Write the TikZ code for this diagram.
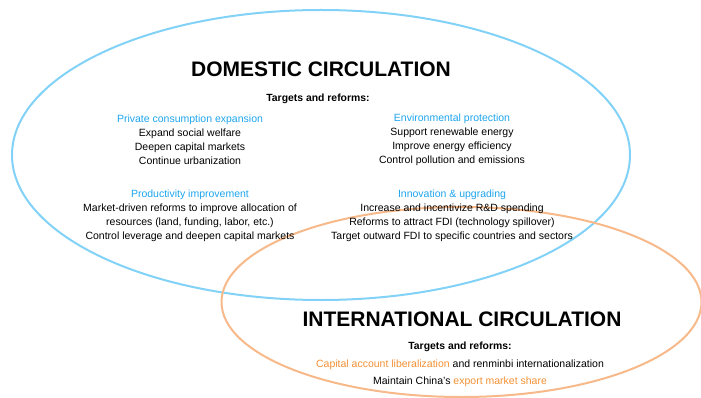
\documentclass[tikz,border=0pt]{standalone}
\usepackage{fontspec}
\setmainfont{Liberation Sans}
\usetikzlibrary{positioning}
\definecolor{dcline}{HTML}{82D2F7}
\definecolor{dctext}{HTML}{1EA5EE}
\definecolor{icline}{HTML}{F7B98A}
\definecolor{ictext}{HTML}{F39035}
\begin{document}
\begin{tikzpicture}
  [x=1pt, y=-1pt,
  bigtitle/.style={font=\fontsize{21}{25}\selectfont\bfseries, inner sep=0pt},
  subhead/.style={font=\fontsize{10.4}{13}\selectfont\bfseries, inner sep=0pt},
  block/.style={font=\fontsize{10.5}{14}\selectfont, align=center, inner sep=0pt},
  line/.style={font=\fontsize{10.5}{14}\selectfont, inner sep=0pt}]
  \useasboundingbox (0,0) rectangle (701,398);

  % the two circles
  \draw [dcline, line width=2pt] (321,155) ellipse [x radius=309pt, y radius=145pt];
  \draw [icline, line width=2pt] (461.5,302) ellipse [x radius=240pt, y radius=95pt];

  % domestic
  \node[bigtitle] (dctitle) at (321,69) {DOMESTIC CIRCULATION};
  \node[subhead] (dcsub) at (318,98.5) {Targets and reforms:};

  \node[block] (consume) at (190,140) {\textcolor{dctext}{Private consumption expansion}\\
    Expand social welfare\\ Deepen capital markets\\ Continue urbanization};
  \node[block] (environ) at (452,140) {\textcolor{dctext}{Environmental protection}\\
    Support renewable energy\\ Improve energy efficiency\\ Control pollution and emissions};
  \node[block] (product) at (190,215.5) {\textcolor{dctext}{Productivity improvement}\\
    Market-driven reforms to improve allocation of\\ resources (land, funding, labor, etc.)\\
    Control leverage and deepen capital markets};
  \node[block] (innov) at (452,215.5) {\textcolor{dctext}{Innovation \& upgrading}\\
    Increase and incentivize R\&D spending\\ Reforms to attract FDI (technology spillover)\\
    Target outward FDI to specific countries and sectors};

  % international
  \node[bigtitle] (ictitle) at (462,319) {INTERNATIONAL CIRCULATION};
  \node[subhead] (icsub) at (460,346.5) {Targets and reforms:};
  \node[line] (capital) at (460,364.5) {\textcolor{ictext}{Capital account liberalization} and renminbi internationalization};
  \node[line] (export) at (460,381.5) {Maintain China's \textcolor{ictext}{export market share}};
\end{tikzpicture}
\end{document}
